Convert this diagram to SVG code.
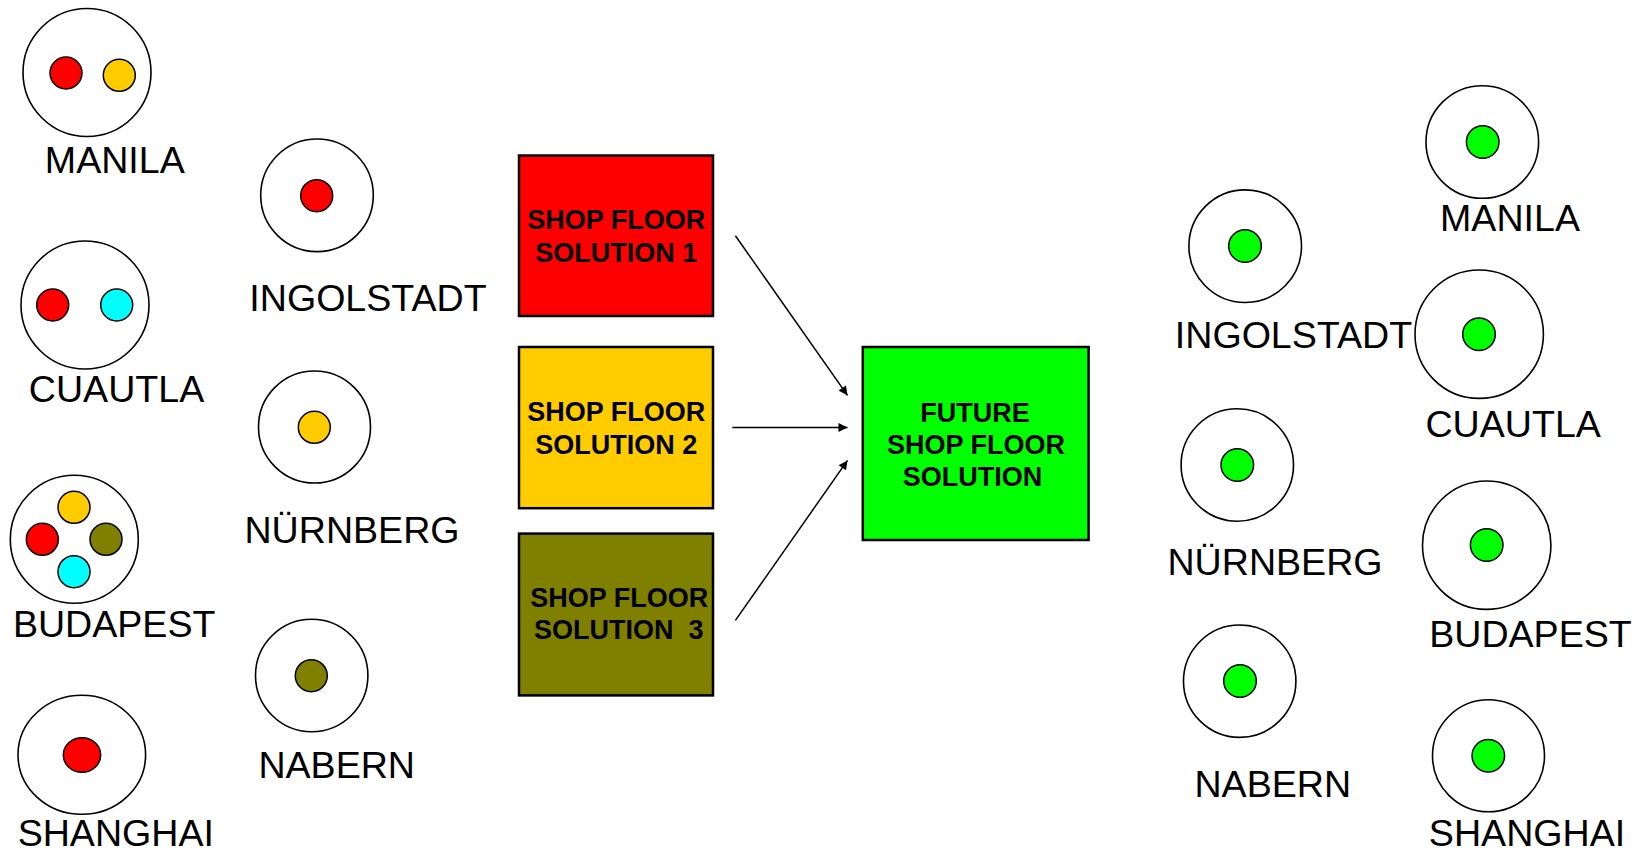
<svg xmlns="http://www.w3.org/2000/svg" width="1637" height="851" viewBox="0 0 1637 851">
  <style>
    .site { fill: #ffffff; stroke: #000000; stroke-width: 1.6; }
    .dot { stroke: #000000; stroke-width: 1.5; }
    .red { fill: #ff0000; }
    .yellow { fill: #ffcc00; }
    .olive { fill: #808000; }
    .cyan { fill: #00ffff; }
    .green { fill: #00ff00; }
    .label { font-family: "Liberation Sans", Arial, sans-serif; font-size: 37.6px; fill: #000000; text-anchor: middle; }
    .box { stroke: #000000; stroke-width: 2.5; }
    .boxtext { font-family: "Liberation Sans", Arial, sans-serif; font-size: 27px; font-weight: bold; fill: #000000; text-anchor: middle; }
    .conn { stroke: #000000; stroke-width: 1.5; fill: none; marker-end: url(#arrow); }
  </style>
  <defs>
    <marker id="arrow" viewBox="0 0 10 10" refX="10" refY="5" markerWidth="10" markerHeight="9" markerUnits="userSpaceOnUse" orient="auto">
      <path d="M0,0 L10,5 L0,10 Z" fill="#000000"/>
    </marker>
  </defs>
  <rect width="1637" height="851" fill="#ffffff"/>

  <!-- current sites, left column -->
  <g id="cur-manila">
    <circle class="site" cx="87" cy="72.5" r="64"/>
    <circle class="dot red" cx="66" cy="73" r="16"/>
    <circle class="dot yellow" cx="119.3" cy="75.3" r="16"/>
    <text class="label" x="114.8" y="172.7">MANILA</text>
  </g>
  <g id="cur-cuautla">
    <circle class="site" cx="85" cy="305" r="64"/>
    <circle class="dot red" cx="52.7" cy="305" r="16"/>
    <circle class="dot cyan" cx="116.7" cy="305" r="16"/>
    <text class="label" x="116.5" y="401.7">CUAUTLA</text>
  </g>
  <g id="cur-budapest">
    <circle class="site" cx="74.3" cy="539.3" r="64"/>
    <circle class="dot yellow" cx="74" cy="507.3" r="16"/>
    <circle class="dot red" cx="42.3" cy="539.3" r="16"/>
    <circle class="dot olive" cx="106" cy="539.3" r="16"/>
    <circle class="dot cyan" cx="74" cy="571.7" r="16"/>
    <text class="label" x="114.2" y="636.7">BUDAPEST</text>
  </g>
  <g id="cur-shanghai">
    <ellipse class="site" cx="81.8" cy="754.8" rx="63.8" ry="59.5"/>
    <ellipse class="dot red" cx="82" cy="755" rx="18.7" ry="17.3"/>
    <text class="label" x="115.8" y="845.7">SHANGHAI</text>
  </g>

  <!-- current sites, second column -->
  <g id="cur-ingolstadt">
    <circle class="site" cx="317" cy="195.3" r="56.3"/>
    <circle class="dot red" cx="316.7" cy="195.7" r="16"/>
    <text class="label" x="368" y="311">INGOLSTADT</text>
  </g>
  <g id="cur-nuernberg">
    <circle class="site" cx="314.5" cy="427" r="56"/>
    <circle class="dot yellow" cx="314.3" cy="427.3" r="16"/>
    <text class="label" x="352" y="543.3">NÜRNBERG</text>
  </g>
  <g id="cur-nabern">
    <circle class="site" cx="311.7" cy="675.5" r="56.2"/>
    <circle class="dot olive" cx="311.3" cy="675.7" r="16"/>
    <text class="label" x="336.7" y="777.7">NABERN</text>
  </g>

  <!-- shop floor solutions -->
  <g id="sol-1">
    <rect class="box red" x="519" y="155.5" width="194" height="160.5"/>
    <text class="boxtext" x="616.2" y="229.3">SHOP FLOOR</text>
    <text class="boxtext" x="616.2" y="262.1">SOLUTION 1</text>
  </g>
  <g id="sol-2">
    <rect class="box yellow" x="519" y="347" width="194" height="161.2"/>
    <text class="boxtext" x="616.2" y="421.4">SHOP FLOOR</text>
    <text class="boxtext" x="616.2" y="453.6">SOLUTION 2</text>
  </g>
  <g id="sol-3">
    <rect class="box olive" x="519" y="533.6" width="194" height="161.8"/>
    <text class="boxtext" x="619.2" y="606.8">SHOP FLOOR</text>
    <text class="boxtext" x="618.7" y="638.9" xml:space="preserve">SOLUTION  3</text>
  </g>
  <g id="sol-future">
    <rect class="box green" x="862.8" y="347" width="225.8" height="193"/>
    <text class="boxtext" x="975" y="422.1">FUTURE</text>
    <text class="boxtext" x="975.9" y="454.3">SHOP FLOOR</text>
    <text class="boxtext" x="972.5" y="485.7">SOLUTION</text>
  </g>

  <!-- connectors -->
  <g id="connectors">
    <line class="conn" x1="735.4" y1="235.7" x2="847.5" y2="395.4"/>
    <line class="conn" x1="732.3" y1="427.5" x2="847.5" y2="427.5"/>
    <line class="conn" x1="735.4" y1="620.4" x2="847.5" y2="460.4"/>
  </g>

  <!-- future sites, first column -->
  <g id="fut-ingolstadt">
    <circle class="site" cx="1245.2" cy="246.2" r="56.3"/>
    <circle class="dot green" cx="1245" cy="246" r="16.3"/>
    <text class="label" x="1293.5" y="347.7">INGOLSTADT</text>
  </g>
  <g id="fut-nuernberg">
    <circle class="site" cx="1237.3" cy="465" r="56.2"/>
    <circle class="dot green" cx="1237.3" cy="465" r="16.3"/>
    <text class="label" x="1275" y="575">NÜRNBERG</text>
  </g>
  <g id="fut-nabern">
    <circle class="site" cx="1239.7" cy="681.2" r="56.2"/>
    <circle class="dot green" cx="1240" cy="681" r="16.3"/>
    <text class="label" x="1272.8" y="796.7">NABERN</text>
  </g>

  <!-- future sites, second column -->
  <g id="fut-manila">
    <circle class="site" cx="1482.3" cy="142" r="56.3"/>
    <circle class="dot green" cx="1482.7" cy="142" r="16.3"/>
    <text class="label" x="1510" y="231">MANILA</text>
  </g>
  <g id="fut-cuautla">
    <circle class="site" cx="1479.2" cy="334.2" r="64.2"/>
    <circle class="dot green" cx="1479" cy="334.3" r="16.3"/>
    <text class="label" x="1513.2" y="436.7">CUAUTLA</text>
  </g>
  <g id="fut-budapest">
    <circle class="site" cx="1486.7" cy="545.2" r="64.2"/>
    <circle class="dot green" cx="1486.7" cy="545" r="16.3"/>
    <text class="label" x="1530.5" y="646.7">BUDAPEST</text>
  </g>
  <g id="fut-shanghai">
    <circle class="site" cx="1488.5" cy="755.8" r="56"/>
    <circle class="dot green" cx="1488.3" cy="755.7" r="16.3"/>
    <text class="label" x="1527" y="845.7">SHANGHAI</text>
  </g>
</svg>
